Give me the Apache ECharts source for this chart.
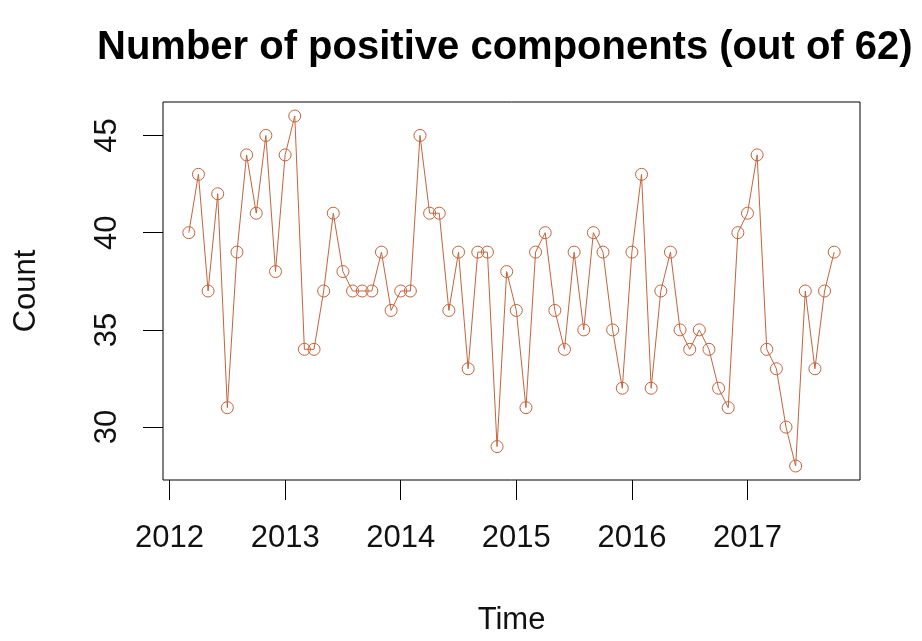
<!DOCTYPE html>
<html>
<head>
<meta charset="utf-8">
<script src="https://cdn.jsdelivr.net/npm/echarts@6/dist/echarts.min.js"></script>
<style>
  html, body { margin: 0; padding: 0; background: #ffffff; }
  #chart { width: 922px; height: 641px; }
</style>
</head>
<body>
<div id="chart"></div>
<script>
// Monthly series starting March 2012
const startYear = 2012;
const startMonth = 3;
const counts = [
  40, 43, 37, 42, 31, 39, 44, 41, 45, 38,
  44, 46, 34, 34, 37, 41, 38, 37, 37, 37,
  39, 36, 37, 37, 45, 41, 41, 36, 39, 33,
  39, 39, 29, 38, 36, 31, 39, 40, 36, 34,
  39, 35, 40, 39, 35, 32, 39, 43, 32, 37,
  39, 35, 34, 35, 34, 32, 31, 40, 41, 44,
  34, 33, 30, 28, 37, 33, 37, 39
];
const xTicks = [2012, 2013, 2014, 2015, 2016, 2017];
const yTicks = [30, 35, 40, 45];

// decimal time of each observation
const times = counts.map((_, i) => startYear + (startMonth - 1 + i) / 12);
const points = counts.map((v, i) => [times[i], v]);

// axis ranges padded by 4% like a base-graphics plot
function padded(lo, hi) {
  const d = (hi - lo) * 0.04;
  return [lo - d, hi + d];
}
const xr = padded(Math.min(...times), Math.max(...times));
const yr = padded(Math.min(...counts), Math.max(...counts));

const FONT = '"Liberation Sans", Arial, sans-serif';
const COL = '#c4643c';
const INK = '#111';

const chart = echarts.init(document.getElementById('chart'), null, { renderer: 'canvas' });
chart.setOption({
  animation: false,
  backgroundColor: '#ffffff',
  title: {
    text: 'Number of positive components (out of 62)',
    left: 92,
    top: 23,
    textStyle: { fontFamily: FONT, fontSize: 40, fontWeight: 'bold', color: '#000' }
  },
  grid: {
    left: 163, right: 62, top: 102, bottom: 156,
    show: true, borderColor: '#000', borderWidth: 1, backgroundColor: 'transparent'
  },
  xAxis: {
    type: 'value',
    min: xr[0], max: xr[1],
    name: 'Time',
    nameLocation: 'middle',
    nameGap: 125,
    nameTextStyle: { fontFamily: FONT, fontSize: 31, color: INK, verticalAlign: 'top' },
    axisLine: { show: false },
    splitLine: { show: false },
    axisTick: { show: true, length: 20, lineStyle: { color: '#000', width: 1 }, customValues: xTicks },
    axisLabel: { fontFamily: FONT, fontSize: 31, color: INK, margin: 43, customValues: xTicks, formatter: v => String(v) }
  },
  yAxis: {
    type: 'value',
    min: yr[0], max: yr[1],
    name: 'Count',
    nameLocation: 'middle',
    nameGap: 121,
    nameRotate: 90,
    nameTextStyle: { fontFamily: FONT, fontSize: 31, color: INK },
    axisLine: { show: false },
    splitLine: { show: false },
    axisTick: { show: true, length: 20, lineStyle: { color: '#000', width: 1 }, customValues: yTicks },
    axisLabel: { fontFamily: FONT, fontSize: 31, color: INK, margin: 40, rotate: 90, customValues: yTicks, formatter: v => String(v) }
  },
  series: [{
    type: 'line',
    data: points,
    symbol: 'circle',
    symbolSize: 12,
    showAllSymbol: true,
    lineStyle: { color: COL, width: 1 },
    itemStyle: { color: 'rgba(0,0,0,0)', borderColor: COL, borderWidth: 1 },
    emphasis: { disabled: true }
  }]
});
</script>
</body>
</html>
